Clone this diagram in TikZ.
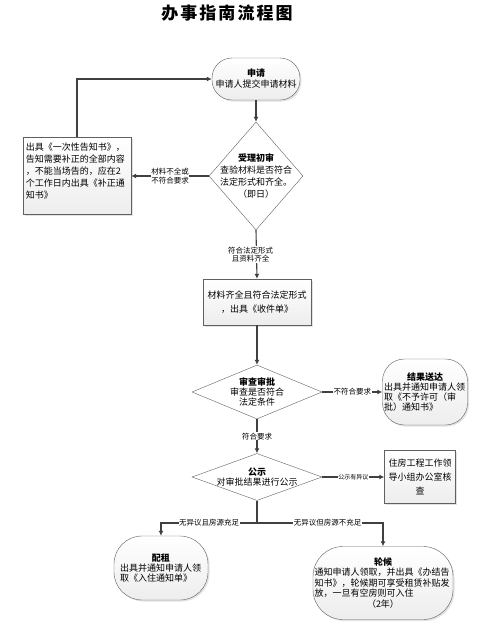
\documentclass[tikz,border=0pt]{standalone}
\usepackage{fontspec}
\setmainfont{Noto Sans CJK SC}
\usetikzlibrary{arrows.meta,shapes.geometric,shadows}

\begin{document}
\begin{tikzpicture}[x=1pt,y=-1pt,
  every node/.style={font=\fontsize{9}{11}\selectfont, inner sep=1pt},
  box/.style={draw=gray!75!black, top color=white, bottom color=gray!14,
    drop shadow={shadow xshift=1.5pt, shadow yshift=-1.5pt, fill=gray!45}},
  stadium/.style={box, rounded corners=#1},
  dia/.style={draw=gray!75!black, fill=white, shape=diamond, inner sep=0pt},
  line/.style={draw=black!75, line width=1.1pt},
  arr/.style={line, -{Latex[length=5pt,width=5pt]}},
  lbl/.style={fill=white, font=\fontsize{7.5}{8.5}\selectfont, align=center, inner sep=0.5pt}]
  \useasboundingbox (0,0) rectangle (494,641);
  \node[font=\fontsize{17}{20}\selectfont\bfseries\addfontfeature{LetterSpace=12}] (title) at (227,13) {办事指南流程图};
  % steps
  \node[stadium=20, minimum width=88, minimum height=42, align=center] (apply) at (256,79) {\textbf{申请}\\申请人提交申请材料};
  \node[dia, minimum width=94, minimum height=108] (accept) at (256,176) {};
  \node[align=center, font=\fontsize{9}{12}\selectfont] (acceptt) at (accept) {\textbf{受理初审}\\查验材料是否符合\\法定形式和齐全。\\（即日）};
  \node[box, minimum width=108, minimum height=77] (notice) at (77,176) {};
  \node[anchor=north west, align=left, font=\fontsize{9}{12}\selectfont] (noticet) at ([shift={(2,4)}]notice.north west) {出具《一次性告知书》，\\告知需要补正的全部内容\\，不能当场告的，应在2\\个工作日内出具《补正通\\知书》};
  \node[box, minimum width=108, minimum height=46, align=center] (receipt) at (257,302) {材料齐全且符合法定形式\\[3pt]，出具《收件单》};
  \node[dia, minimum width=130, minimum height=54] (review) at (257,392) {};
  \node[align=center, font=\fontsize{9}{10}\selectfont] (reviewt) at (review) {\textbf{审查审批}\\审查是否符合\\法定条件};
  \node[stadium=22, minimum width=85, minimum height=66, text width=82, align=left, font=\fontsize{9}{10}\selectfont] (result) at (425,392) {\makebox[\linewidth]{\textbf{结果送达}}\\出具并通知申请人领\\取《不予许可（审\\批）通知书》};
  \node[dia, minimum width=130, minimum height=47] (publish) at (257,477) {};
  \node[align=center, font=\fontsize{9}{10}\selectfont] (publisht) at (publish) {\textbf{公示}\\对审批结果进行公示};
  \node[box, minimum width=71, minimum height=53, align=center, font=\fontsize{9}{14}\selectfont] (verify) at (420,477) {住房工程工作领\\导小组办公室核\\查};
  \coordinate (split) at (257,523);
  \node[stadium=28, minimum width=94, minimum height=64, text width=82, align=left, font=\fontsize{9}{10}\selectfont] (rent) at (161,568) {\makebox[\linewidth]{\textbf{配租}}\\出具并通知申请人领\\取《入住通知单》};
  \node[stadium=30, minimum width=140, minimum height=73, text width=137, align=left, font=\fontsize{9}{10.5}\selectfont] (wait) at (383,583) {\makebox[\linewidth]{\textbf{轮候}}\\通知申请人领取，并出具《办结告\\知书》，轮候期可享受租赁补贴发\\放，一旦有空房则可入住\\\makebox[\linewidth]{（2年）}};
  % connectors
  \draw[arr] (apply) -- (accept);
  \draw[arr] (accept.west) -- node[lbl] {材料不全或\\不符合要求} (notice.east);
  \draw[arr] (notice.north) |- (apply.west);
  \draw[arr] (accept.south) -- node[lbl, xshift=-6] {符合法定形式\\且资料齐全} (receipt.north);
  \draw[arr] (receipt) -- (review);
  \draw[arr] (review.east) -- node[lbl] {不符合要求} (result.west);
  \draw[arr] (review.south) -- node[lbl] {符合要求} (publish.north);
  \draw[arr] (publish.east) -- node[lbl, font=\fontsize{6}{7}\selectfont] {公示有异议} (verify.west);
  \draw[line] (publish.south) -- (split);
  \draw[arr] (split) -| node[lbl, pos=0.25] {无异议且房源充足} (rent.north);
  \draw[arr] (split) -| node[lbl, pos=0.28] {无异议但房源不充足} (wait.north);
\end{tikzpicture}
\end{document}
